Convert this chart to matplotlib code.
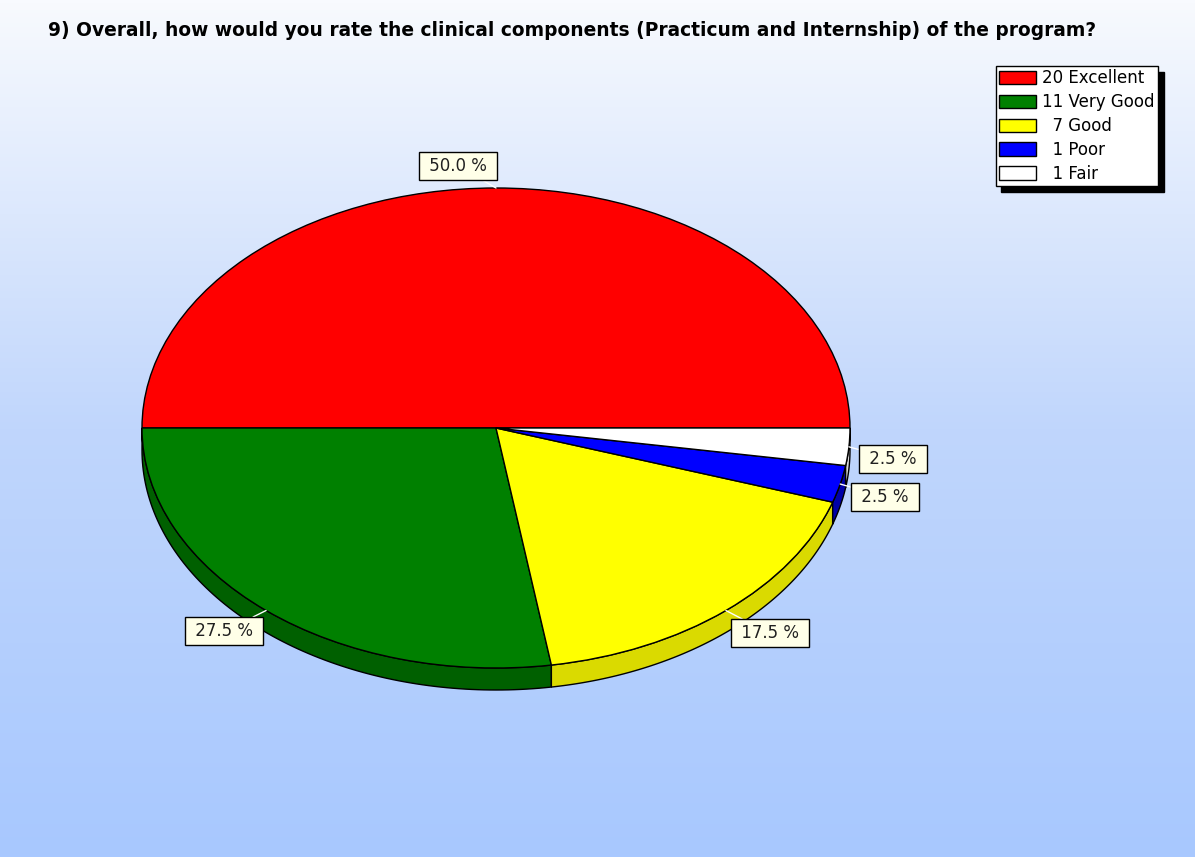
import numpy as np
import matplotlib.pyplot as plt
from matplotlib.patches import Polygon
from matplotlib.colors import LinearSegmentedColormap

# survey answers
labels = ["Excellent", "Very Good", "Good", "Poor", "Fair"]
counts = [20, 11, 7, 1, 1]
colors = ["#ff0000", "#008000", "#ffff00", "#0000ff", "#ffffff"]
side_colors = ["#b00000", "#006000", "#dada00", "#0000a8", "#d8d8d8"]
legend_text = ["20 Excellent", "11 Very Good", "  7 Good", "  1 Poor", "  1 Fair"]

title = "9) Overall, how would you rate the clinical components (Practicum and Internship) of the program?"

W, H = 1195, 857
cx, cy, rx, ry = 496, 428, 354, 240   # pie centre and radii in pixels
depth = 22 / ry

fig = plt.figure(figsize=(W / 100, H / 100), dpi=100)

# background gradient
bg = fig.add_axes([0, 0, 1, 1], zorder=0)
cmap = LinearSegmentedColormap.from_list("bg", ["#a8c8ff", "#c0d6fc", "#f8fafe"])
grad = np.linspace(0, 1, 256).reshape(-1, 1)
bg.imshow(grad, cmap=cmap, aspect="auto", extent=[0, 1, 0, 1], origin="lower")
bg.axis("off")

ax = fig.add_axes([0, 0, 1, 1], zorder=1)

total = sum(counts)
fracs = np.array(counts) / total
ends = np.cumsum(fracs) * 360
starts = ends - fracs * 360

# side wall for the front half of the pie
for s, e, c in zip(starts, ends, side_colors):
    lo, hi = max(s, 180), min(e, 360)
    if hi <= lo:
        continue
    t = np.radians(np.linspace(lo, hi, 100))
    top = np.column_stack([np.cos(t), np.sin(t)])
    bot = np.column_stack([np.cos(t[::-1]), np.sin(t[::-1]) - depth])
    ax.add_patch(Polygon(np.vstack([top, bot]), closed=True, facecolor=c,
                         edgecolor="black", linewidth=1, zorder=2))

wedges, _ = ax.pie(counts, colors=colors, startangle=0, counterclock=True,
                   radius=1, center=(0, 0), frame=True,
                   wedgeprops=dict(edgecolor="black", linewidth=1, zorder=3))
ax.set_aspect("auto")
ax.set_xlim(-cx / rx, (W - cx) / rx)
ax.set_ylim(-(H - cy) / ry, cy / ry)
ax.axis("off")

# percentage labels: offset in pixels, alignment
placement = [
    ((-4, 13), "right", "bottom"),
    ((-8, -12), "right", "top"),
    ((10, -14), "left", "top"),
    ((16, -4), "left", "top"),
    ((15, -3), "left", "top"),
]
for s, e, f, (off, ha, va) in zip(starts, ends, fracs, placement):
    mid = np.radians((s + e) / 2)
    x, y = np.cos(mid), np.sin(mid)
    ax.annotate(f" {f * 100:.1f} % ", xy=(x, y), xytext=(off[0] * 0.72, off[1] * 0.72),
                textcoords="offset points", ha=ha, va=va, fontsize=12,
                color="#202020", zorder=6,
                bbox=dict(boxstyle="square,pad=0.3", facecolor="#ffffe8",
                          edgecolor="black", linewidth=1),
                arrowprops=dict(arrowstyle="-", color="white", linewidth=1,
                                shrinkA=0, shrinkB=0))

fig.text(48 / W, 1 - 30 / H, title, fontsize=13.4, fontweight="bold",
         va="center", ha="left", color="black")

handles = [plt.Rectangle((0, 0), 1, 1, facecolor=c, edgecolor="black") for c in colors]
leg = fig.legend(handles, legend_text, loc="upper right",
                 bbox_to_anchor=(1158 / W, 1 - 66 / H), fontsize=12,
                 frameon=True, fancybox=False, borderpad=0.2,
                 labelspacing=0.35, handlelength=2.2, handleheight=0.85,
                 handletextpad=0.4, borderaxespad=0,
                 shadow={"ox": 4, "oy": -4, "facecolor": "black",
                         "edgecolor": "black", "alpha": 1})
leg.get_frame().set_edgecolor("black")
leg.get_frame().set_linewidth(1)
leg.get_frame().set_facecolor("white")
leg.get_frame().set_alpha(1)

fig.savefig("out.png", dpi=100)
